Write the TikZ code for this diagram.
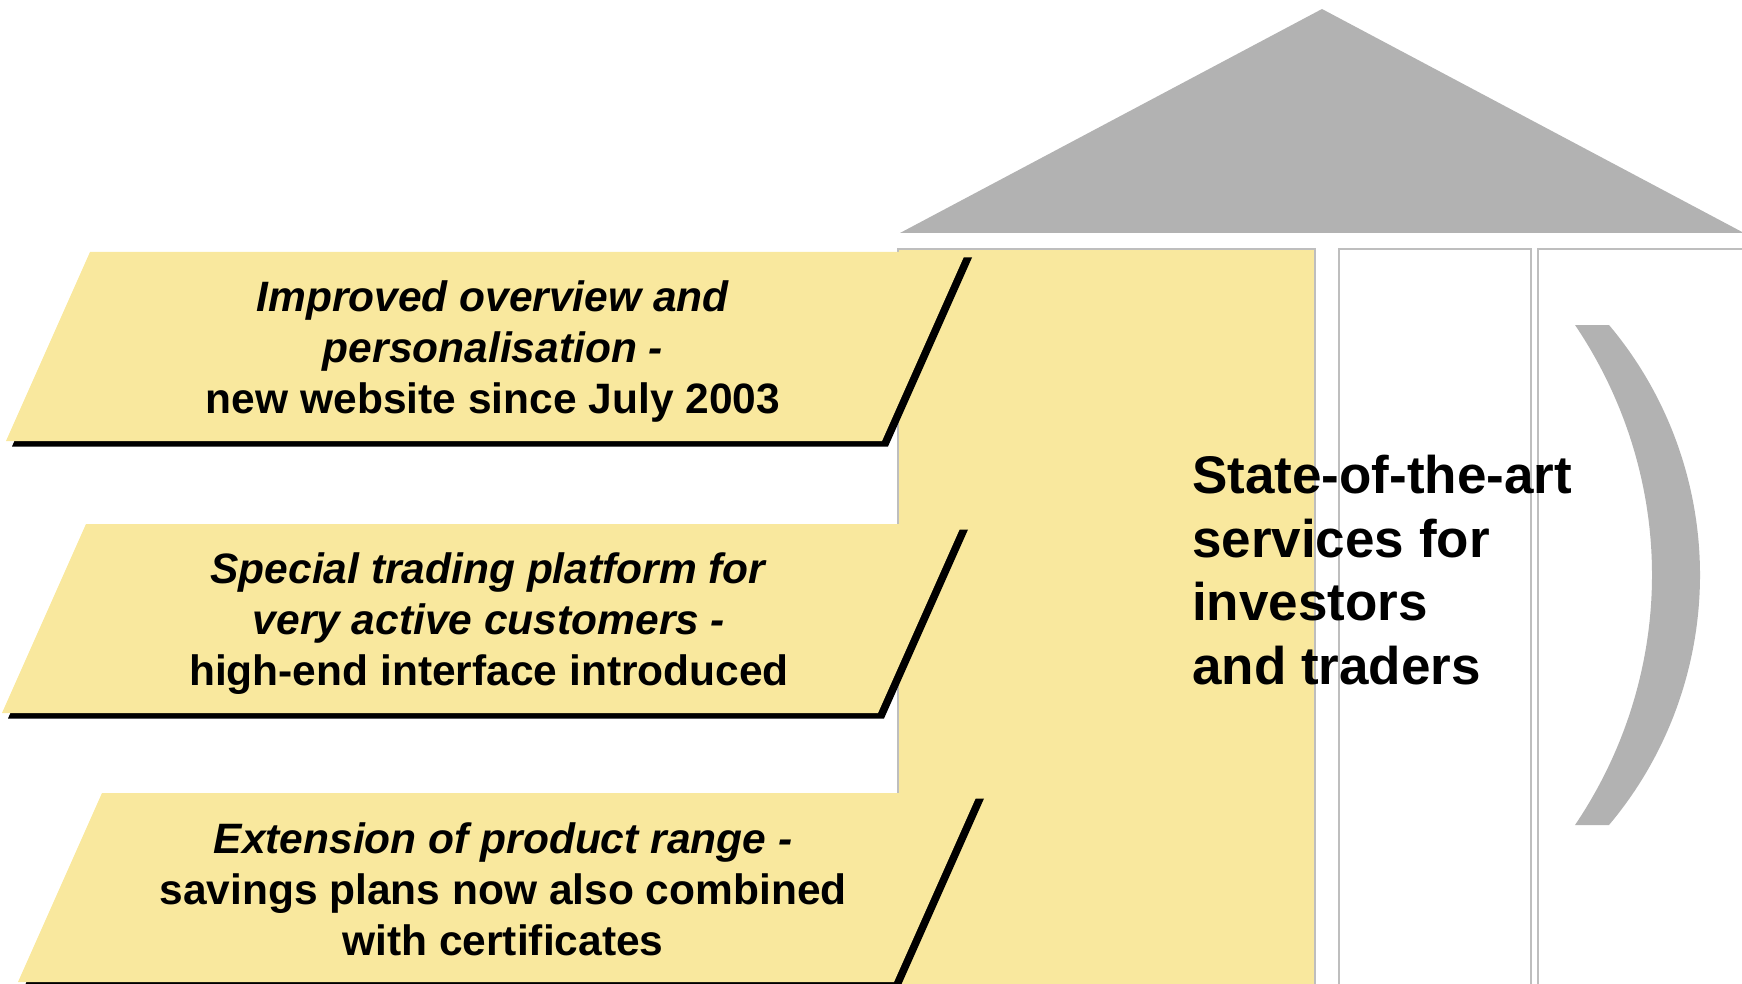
\documentclass[tikz,border=0pt]{standalone}
\usepackage{fontspec}
\setmainfont{Liberation Sans}
\definecolor{byellow}{RGB}{249,232,158}
\definecolor{roofgray}{RGB}{178,178,178}
\definecolor{colline}{RGB}{190,190,190}
\begin{document}
\begin{tikzpicture}[x=1pt,y=-1pt,
  pillar/.style={draw=colline, line width=1.7pt},
  bannerfill/.style={fill=byellow},
  bannershadow/.style={fill=black},
  btext/.style={font=\fontsize{42.5}{51}\selectfont\bfseries, align=center, anchor=base, inner sep=0pt},
  maintext/.style={font=\fontsize{53}{63.5}\selectfont\bfseries, align=left, anchor=base west, inner sep=0pt}]
\useasboundingbox (0,0) rectangle (1742,984);
% roof
\fill[roofgray] (900,233) -- (1322,9) -- (1744,233) -- cycle;
% columns
\draw[pillar, fill=byellow] (898,249) rectangle (1315,995);
\draw[pillar] (1339,249) rectangle (1531,995);
\draw[pillar] (1538,249) rectangle (1755,995);
% banners
\foreach \tl/\t in {90/252, 86/524, 102/793}{
  \fill[bannershadow, shift={(6,5.5)}] (\tl,\t) -- (\tl+876,\t) -- (\tl+792,\t+189) -- (\tl-84,\t+189) -- cycle;
  \fill[bannerfill] (\tl,\t) -- (\tl+876,\t) -- (\tl+792,\t+189) -- (\tl-84,\t+189) -- cycle;
}
% anchor=base of a multi-line node is the baseline of its last line
\node[btext] (b1) at (493,413) {\textit{Improved overview and}\\\textit{personalisation -}\\new website since July 2003};
\node[btext] (b2) at (489,685) {\textit{Special trading platform for}\\\textit{very active customers -}\\high-end interface introduced};
\node[btext] (b3) at (503,955) {\textit{Extension of product range -}\\savings plans now also combined\\with certificates};
% main text
\node[maintext] (main) at (1192,684) {State-of-the-art\\services for\\investors\\and traders};
% bracket
\fill[roofgray] (1575,325) -- (1609,325) .. controls (1668,395) and (1700,484) .. (1700,575)
  .. controls (1700,666) and (1668,755) .. (1609,825) -- (1575,825)
  .. controls (1625,751) and (1652,664) .. (1652,575)
  .. controls (1652,486) and (1625,399) .. (1575,325) -- cycle;
\end{tikzpicture}
\end{document}
